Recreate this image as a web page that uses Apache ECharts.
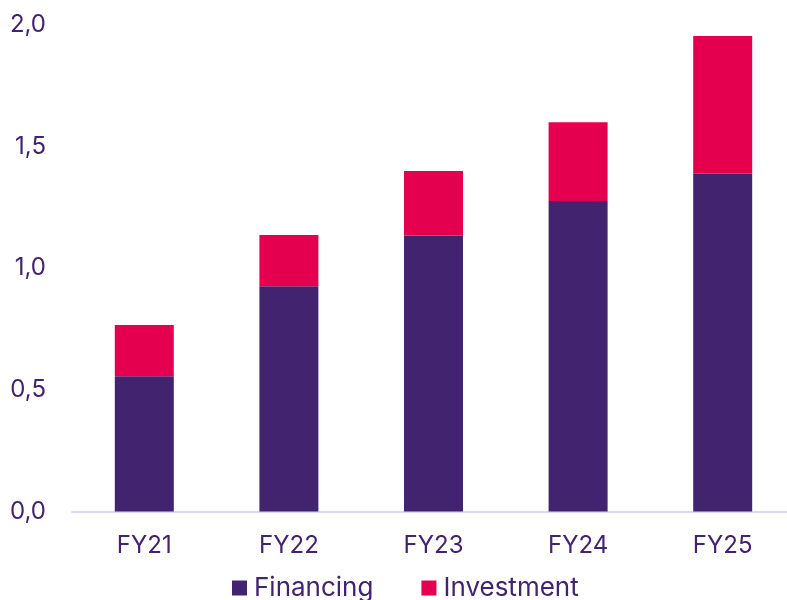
<!DOCTYPE html>
<html>
<head>
<meta charset="utf-8">
<script src="https://cdn.jsdelivr.net/npm/echarts@6/dist/echarts.min.js"></script>
<style>
    html, body { margin: 0; padding: 0; background: #fff; }
    #chartDiv { width: 787px; height: 600px; }
</style>
</head>
<body>
<div id="chartDiv"></div>
<script>
    // 年度
    var years = ['FY21', 'FY22', 'FY23', 'FY24', 'FY25'];
    // 融资 / 投资
    var financing = [0.556, 0.926, 1.135, 1.276, 1.389];
    var investment = [0.211, 0.211, 0.265, 0.324, 0.566];
    var yTicks = [0, 0.5, 1.0, 1.5, 2.0];

    var textColor = '#42236f';
    var fontName = 'Inter, "Noto Sans", sans-serif';

    var chart = echarts.init(document.getElementById('chartDiv'));
    chart.setOption({
        animation: false,
        textStyle: { fontFamily: fontName },
        grid: { left: 72, width: 723, top: 25, bottom: 88.5, containLabel: false, outerBoundsMode: 'none' },
        legend: {
            top: 570,
            left: 227,
            itemWidth: 15,
            itemHeight: 15,
            itemGap: 48,
            icon: 'rect',
            textStyle: { color: textColor, fontSize: 26, fontFamily: fontName, padding: [0, 0, 0, 2] },
            data: ['Financing', 'Investment']
        },
        xAxis: {
            type: 'category',
            data: years,
            axisLine: { lineStyle: { color: '#ddd6f0', width: 2 } },
            axisTick: { show: false },
            axisLabel: { color: textColor, fontSize: 24, margin: 22, fontFamily: fontName }
        },
        yAxis: {
            type: 'value',
            min: yTicks[0],
            max: yTicks[yTicks.length - 1],
            interval: 0.5,
            splitLine: { show: false },
            axisLine: { show: false },
            axisTick: { show: false },
            axisLabel: {
                color: textColor,
                fontSize: 24,
                margin: 26,
                fontFamily: fontName,
                formatter: function (v) { return v.toFixed(1).replace('.', ','); }
            }
        },
        series: [{
            name: 'Financing',
            type: 'bar',
            stack: 'total',
            barWidth: 59,
            itemStyle: { color: '#42236f' },
            data: financing
        }, {
            name: 'Investment',
            type: 'bar',
            stack: 'total',
            barWidth: 59,
            itemStyle: { color: '#e4004f' },
            data: investment
        }]
    });
</script>
</body>
</html>
